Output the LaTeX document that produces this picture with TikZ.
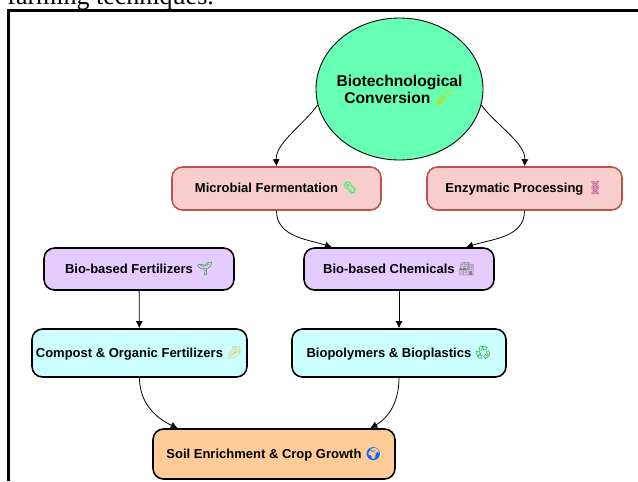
\documentclass[tikz,border=0pt]{standalone}
\usepackage{fontspec}
\setmainfont{Liberation Sans}
\newfontfamily\serifhead{Liberation Serif}
\newfontfamily\emojifont{Noto Emoji}
\usetikzlibrary{shapes.geometric, arrows.meta}

\definecolor{mint}{HTML}{66FFB3}
\definecolor{pinkfill}{HTML}{F8CECC}
\definecolor{pinkline}{HTML}{B85450}
\definecolor{lilac}{HTML}{E5CCFF}
\definecolor{paleblue}{HTML}{CCFFFF}
\definecolor{peach}{HTML}{FFCC99}

\newcommand{\emo}[2]{\textcolor{#1}{\emojifont\symbol{"#2}}}

\tikzset{
    box/.style={rectangle, rounded corners=6pt, align=center, inner sep=0pt,
        font=\bfseries\fontsize{7.4pt}{9pt}\selectfont},
    pinkbox/.style={box, draw=pinkline, line width=.9pt, fill=pinkfill},
    lilacbox/.style={box, draw=black, line width=.9pt, fill=lilac},
    cyanbox/.style={box, draw=black, line width=.9pt, fill=paleblue},
    peachbox/.style={box, draw=black, line width=.9pt, fill=peach},
    link/.style={-{Latex[length=4pt, width=4pt]}, line width=.45pt}
}

\begin{document}
\begin{tikzpicture}[x=.02cm, y=-.02cm]
\useasboundingbox (0,0) rectangle (638,481);
\node[anchor=base west, font=\serifhead\fontsize{14.8pt}{16pt}\selectfont, inner sep=0pt] (head) at (7,4) {farming techniques.};
\draw[line width=1.7pt] (8.5,481) -- (8.5,10.5) -- (638,10.5);

\node[ellipse, draw=black, line width=.5pt, fill=mint, minimum width=167*.02cm, minimum height=142*.02cm, inner sep=0pt] (conv) at (399.5,89) {};
\node[align=center, inner sep=0pt, font=\bfseries\fontsize{8.9pt}{9.7pt}\selectfont] (convtext) at (399.5,90.5) {Biotechnological\\Conversion \emo{yellow!75!green}{1F9EA}};

\node[pinkbox, minimum width=209*.02cm, minimum height=43*.02cm] (ferm) at (276.5,188.5) {Microbial Fermentation \emo{green!70!cyan}{1F9A0}};
\node[pinkbox, minimum width=195*.02cm, minimum height=43*.02cm] (enz) at (524.5,188.5) {Enzymatic Processing \emo{red!60!blue!70}{1F9EC}};
\node[lilacbox, minimum width=190*.02cm, minimum height=42*.02cm] (fert) at (139,269) {Bio-based Fertilizers \emo{green!50!black}{1F331}};
\node[lilacbox, minimum width=190*.02cm, minimum height=42*.02cm] (chem) at (399,269) {Bio-based Chemicals \emo{gray}{1F3ED}};
\node[cyanbox, minimum width=215*.02cm, minimum height=48*.02cm] (comp) at (139.5,353) {Compost \& Organic Fertilizers \emo{yellow!60!gray}{1F33D}};
\node[cyanbox, minimum width=214*.02cm, minimum height=48*.02cm] (poly) at (399,353) {Biopolymers \& Bioplastics \emo{green!60!black}{267B}};
\node[peachbox, minimum width=242*.02cm, minimum height=50*.02cm] (soil) at (274,454) {Soil Enrichment \& Crop Growth \emo{blue!60!cyan}{1F30D}};

\draw[link] (conv.191) to[out=-125, in=93, looseness=.8] (ferm.north);
\draw[link] (conv.-11) to[out=-55, in=87, looseness=.8] (enz.north);
\path[link] (ferm.south) edge[out=-90, in=162] (chem.162);
\path[link] (enz.south) edge[out=-90, in=18] (chem.18);
\draw[link] (fert) -- (comp);
\draw[link] (chem) -- (poly);
\path[link] (comp.south) edge[out=-90, in=155] (soil.165);
\path[link] (poly.south) edge[out=-90, in=30] (soil.15);
\end{tikzpicture}
\end{document}
